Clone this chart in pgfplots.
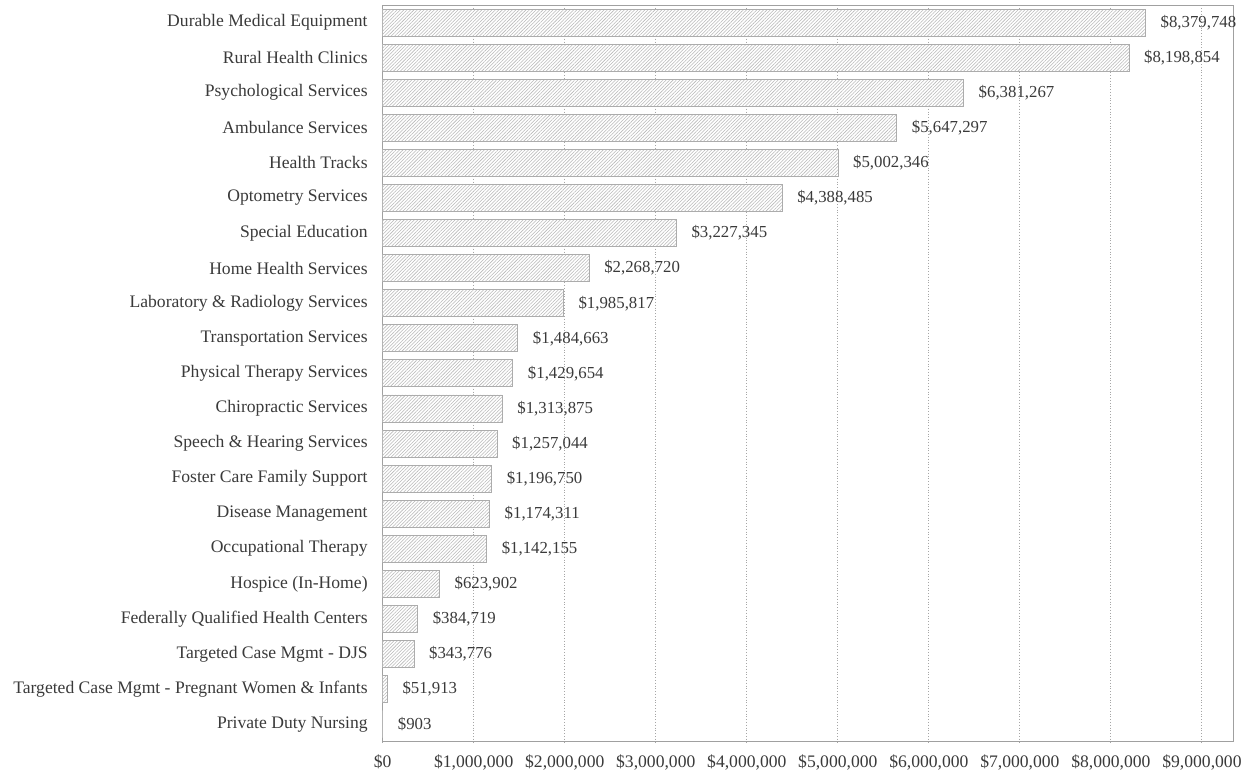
\documentclass[border=0pt]{standalone}
\usepackage{fontspec}
\setmainfont{Liberation Serif}
\usepackage{pgfplots}
\usepackage{pgfplotstable}
\pgfplotsset{compat=1.18}
\usetikzlibrary{patterns.meta}
\definecolor{txt}{HTML}{3A3A3A}
\definecolor{axl}{HTML}{A0A0A0}
\begin{document}
\pgfplotstableread{
y x label
0 8379748 {\$8,379,748}
1 8198854 {\$8,198,854}
2 6381267 {\$6,381,267}
3 5647297 {\$5,647,297}
4 5002346 {\$5,002,346}
5 4388485 {\$4,388,485}
6 3227345 {\$3,227,345}
7 2268720 {\$2,268,720}
8 1985817 {\$1,985,817}
9 1484663 {\$1,484,663}
10 1429654 {\$1,429,654}
11 1313875 {\$1,313,875}
12 1257044 {\$1,257,044}
13 1196750 {\$1,196,750}
14 1174311 {\$1,174,311}
15 1142155 {\$1,142,155}
16 623902 {\$623,902}
17 384719 {\$384,719}
18 343776 {\$343,776}
19 51913 {\$51,913}
20 903 {\$903}
}\data
\begin{tikzpicture}[font=\fontsize{8.8}{10}\selectfont, text=txt]
\begin{axis}[
  name=ax,
  scale only axis,
  width=425.3pt, height=368.3pt,
  xbar, bar width=0.77,
  y dir=reverse,
  xmin=0, xmax=9344000,
  ymin=-0.5, ymax=20.5,
  axis line style={axl, line width=0.6pt},
  major tick length=0pt,
  scaled x ticks=false,
  xtick={0,1000000,2000000,3000000,4000000,5000000,6000000,7000000,8000000,9000000},
  xticklabels={{\$0},{\$1,000,000},{\$2,000,000},{\$3,000,000},{\$4,000,000},{\$5,000,000},{\$6,000,000},{\$7,000,000},{\$8,000,000},{\$9,000,000}},
  ytick={0,...,20},
  yticklabels={Durable Medical Equipment, Rural Health Clinics, Psychological Services, Ambulance Services, Health Tracks, Optometry Services, Special Education, Home Health Services, Laboratory \& Radiology Services, Transportation Services, Physical Therapy Services, Chiropractic Services, Speech \& Hearing Services, Foster Care Family Support, Disease Management, Occupational Therapy, Hospice (In-Home), Federally Qualified Health Centers, Targeted Case Mgmt - DJS, Targeted Case Mgmt - Pregnant Women \& Infants, Private Duty Nursing},
  xticklabel style={text=txt, yshift=-3pt},
  yticklabel style={text=txt, xshift=-4pt},
  xmajorgrids,
  grid style={densely dotted, gray!70, line width=0.5pt},
  point meta=explicit symbolic,
  nodes near coords,
  every node near coord/.append style={text=txt, anchor=west, xshift=4pt, font=\fontsize{8.4}{10}\selectfont},
]
\addplot[draw=gray!65, line width=0.45pt, preaction={fill=white},
  pattern={Lines[angle=45,distance=1.2pt,line width=0.28pt]}, pattern color=gray!55]
  table[x=x,y=y,meta=label] {\data};
\end{axis}
\path (ax.south west) ++(-191.35pt,-16.15pt) rectangle ++(625pt,387pt);
\end{tikzpicture}
\end{document}
